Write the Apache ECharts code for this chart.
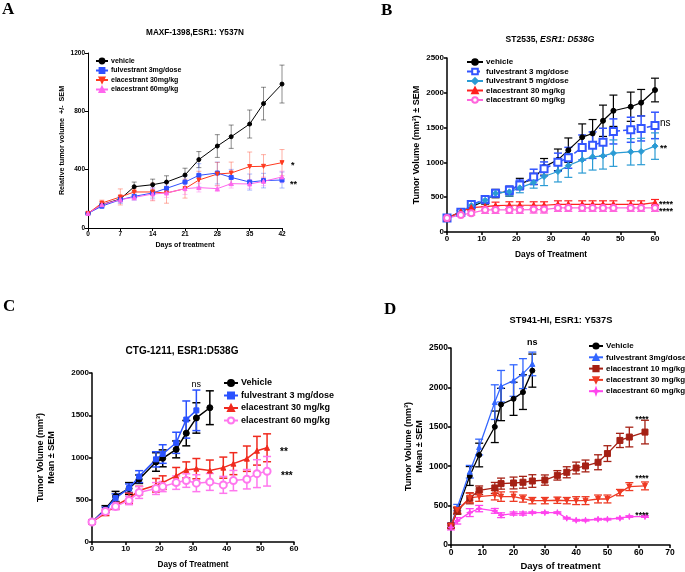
<!DOCTYPE html>
<html><head><meta charset="utf-8">
<script src="https://cdn.jsdelivr.net/npm/echarts@6/dist/echarts.min.js"></script>
<style>html,body{margin:0;padding:0;background:#fff}#c{width:685px;height:572px}</style>
</head><body><div id="c"></div>
<script>
// ---------- Panel A: MAXF-1398 ----------
const daysA = [0,3,7,10,14,17,21,24,28,31,35,38,42];
const A_vehicle = [100,160,199,283,297,315,363,469,562,626,713,853,987];
const A_vehicle_err = [5,12,15,32,38,43,47,55,78,80,96,112,130];
const A_fulv3 = [100,150,194,217,240,272,315,361,377,347,315,325,329];
const A_fulv3_err = [5,15,25,25,35,35,40,80,75,55,55,50,55];
const A_elac30 = [100,171,213,247,247,240,270,329,370,377,421,423,448];
const A_elac30_err = [5,20,55,25,60,70,65,60,80,75,100,80,90];
const A_elac60 = [100,160,195,210,233,240,270,277,270,304,302,320,350];
const A_elac60_err = [5,10,20,20,40,30,40,30,20,30,30,30,40];
const annA = [[42,448,'*'],[42,329,'**']];

// ---------- Panel B: ST2535 ----------
const daysB = [0,4,7,11,14,18,21,25,28,32,35,39,42,45,48,53,56,60];
const B_vehicle = [200,290,360,451,552,586,691,763,936,1037,1176,1363,1416,1598,1742,1800,1858,2040];
const B_vehicle_err = [20,20,30,50,60,70,80,80,120,155,175,190,200,225,225,210,190,170];
const B_fulv3 = [200,283,394,466,557,600,677,792,907,1003,1066,1214,1248,1291,1445,1469,1488,1531];
const B_fulv3_err = [20,30,40,50,50,60,70,110,100,130,150,180,190,200,180,180,180,190];
const B_fulv5 = [200,288,380,456,557,577,634,710,797,869,955,1037,1080,1094,1133,1152,1157,1234];
const B_fulv5_err = [20,20,30,40,40,60,70,80,130,150,170,190,190,190,190,190,190,190];
const B_elac30 = [200,290,350,365,379,384,384,384,384,398,398,398,398,398,398,398,398,422];
const B_elac30_err = [20,20,40,50,50,50,50,50,50,50,50,50,50,50,50,50,50,45];
const B_elac60 = [200,245,270,317,317,317,317,322,322,346,346,346,346,346,346,346,346,346];
const B_elac60_err = [15,20,30,50,50,50,50,50,50,50,50,50,50,50,50,50,50,50];
const annB = [[60,1531,'ns'],[60,1234,'**'],[60,422,'****'],[60,346,'****']];

// ---------- Panel C: CTG-1211 ----------
const daysC_veh = [0,4,7,11,14,19,21,25,28,31,35];
const C_vehicle = [237,390,539,633,743,947,990,1096,1288,1468,1589];
const C_vehicle_err = [20,40,60,70,50,110,100,100,150,180,200];
const daysC_fulv = [0,4,7,11,14,19,21,25,28,31];
const C_fulv3 = [237,382,520,637,774,978,1041,1174,1449,1558];
const C_fulv3_err = [20,30,50,50,70,90,110,125,220,240];
const daysC_elac = [0,4,7,11,14,19,21,25,28,31,35,39,42,46,49,52];
const C_elac30 = [237,343,429,519,609,672,703,782,853,868,845,880,927,986,1080,1115];
const C_elac30_err = [20,30,40,60,50,80,80,100,95,120,125,125,130,150,170,165];
const C_elac60 = [237,362,421,492,586,633,656,703,727,696,711,676,727,743,809,837];
const C_elac60_err = [20,30,40,50,70,70,60,80,80,100,100,100,120,115,165,175];
const annC = [[31,1558,'ns'],[52,1115,'**'],[52,837,'***']];

// ---------- Panel D: ST941-HI ----------
const daysD_short = [0,2,6,9,14,16,20,23,26];
const D_vehicle = [243,433,876,1142,1500,1783,1855,1940,2213];
const D_vehicle_err = [30,40,120,150,200,205,210,220,210];
const D_fulv3 = [250,475,930,1243,1813,2015,2087,2175,2298];
const D_fulv3_err = [30,40,80,100,220,200,200,190,150];
const daysD_long = [0,2,6,9,14,16,20,23,26,30,34,37,40,43,47,50,54,57,62];
const D_elac10 = [243,433,593,694,724,779,787,796,812,824,884,923,977,1003,1050,1160,1327,1370,1433];
const D_elac10_err = [30,40,70,55,70,70,75,75,80,65,60,70,75,75,95,100,90,125,150];
const D_elac30 = [243,445,597,614,632,614,614,589,563,563,568,563,563,563,584,584,665,741,750];
const D_elac30_err = [30,40,60,60,60,60,60,45,40,40,40,40,50,50,50,50,40,50,50];
const D_elac60 = [222,306,411,462,433,378,399,399,411,411,411,340,314,314,327,327,340,361,361];
const D_elac60_err = [30,40,50,40,30,30,20,20,10,10,10,10,10,10,10,10,10,10,10];
const annD = [[26,2298,'ns'],[62,1433,'****'],[62,750,'****'],[62,361,'****']];

// ---------- build ----------
const FF = '"Liberation Sans", Arial, Helvetica, sans-serif';
const chart = echarts.init(document.getElementById('c'), null, {renderer:'canvas'});
const series = [];

function addGroup(gi, name, days, vals, errs, o) {
  series.push({
    type:'custom', xAxisIndex:gi, yAxisIndex:gi, silent:true, z:2,
    data: days.map((d,i)=>[d, vals[i]-errs[i], vals[i]+errs[i]]),
    encode:{x:0, y:[1,2]},
    renderItem:(p, api)=>{
      const x = api.value(0);
      const lo = api.coord([x, api.value(1)]), hi = api.coord([x, api.value(2)]);
      const h = o.cap, st = {stroke:o.errColor||o.color, lineWidth:o.errWidth||o.width};
      return {type:'group', children:[
        {type:'line', shape:{x1:lo[0],y1:lo[1],x2:hi[0],y2:hi[1]}, style:st},
        {type:'line', shape:{x1:hi[0]-h,y1:hi[1],x2:hi[0]+h,y2:hi[1]}, style:st},
        {type:'line', shape:{x1:lo[0]-h,y1:lo[1],x2:lo[0]+h,y2:lo[1]}, style:st}
      ]};
    }
  });
  series.push({
    type:'line', name:name, xAxisIndex:gi, yAxisIndex:gi, z:3,
    data: days.map((d,i)=>[d, vals[i]]),
    symbol:o.symbol, symbolSize:o.size, symbolRotate:o.rotate||0,
    showAllSymbol:true, animation:false,
    lineStyle:{color:o.color, width:o.width, type:o.dash||'solid'},
    itemStyle:{color:o.color, borderColor:o.color, borderWidth:o.symBorder||1},
    emphasis:{disabled:true}
  });
}

function addAnn(gi, list, offs, font) {
  series.push({
    type:'custom', xAxisIndex:gi, yAxisIndex:gi, silent:true, z:5, clip:false,
    data: list.map(a=>[a[0],a[1]]),
    renderItem:(p, api)=>{
      const a = list[p.dataIndex], of = offs[p.dataIndex];
      const pt = api.coord([api.value(0), api.value(1)]);
      return {type:'text', x:pt[0]+of[0], y:pt[1]+of[1], style:{
        text:a[2], fill:'#000', fontSize:of[3]||font.size, fontWeight:of[4]||font.weight,
        fontFamily:FF, align:of[2]||'left', verticalAlign:'middle'}};
    }
  });
}

const star4 = 'path://M0,-10 L2.5,-2.5 L10,0 L2.5,2.5 L0,10 L-2.5,2.5 L-10,0 L-2.5,-2.5 Z';

// Panel A
addGroup(0,'vehicle|A',daysA,A_vehicle,A_vehicle_err,{color:'#000',errColor:'rgba(0,0,0,0.45)',width:1,errWidth:1,cap:2.5,symbol:'circle',size:4});
addGroup(0,'fulvestrant 3mg/dose|A',daysA,A_fulv3,A_fulv3_err,{color:'#3050ff',errColor:'rgba(48,80,255,0.4)',width:1,errWidth:1,cap:2.5,symbol:'rect',size:4});
addGroup(0,'elacestrant 30mg/kg|A',daysA,A_elac30,A_elac30_err,{color:'#ff3a1f',errColor:'rgba(255,58,31,0.4)',width:1,errWidth:1,cap:2.5,symbol:'triangle',rotate:180,size:4});
addGroup(0,'elacestrant 60mg/kg|A',daysA,A_elac60,A_elac60_err,{color:'#ff66ee',errColor:'rgba(255,102,238,0.4)',width:1,errWidth:1,cap:2.5,symbol:'triangle',size:4});
addAnn(0, annA, [[9,3],[8,4]], {size:9, weight:'bold'});

// Panel B
addGroup(1,'vehicle|B',daysB,B_vehicle,B_vehicle_err,{color:'#000',width:1.2,cap:4,symbol:'circle',size:5});
addGroup(1,'fulvestrant 3 mg/dose|B',daysB,B_fulv3,B_fulv3_err,{color:'#3355ff',width:1.5,cap:4,symbol:'emptyRect',size:7,dash:[5,3],symBorder:1.2});
addGroup(1,'fulvestrant 5 mg/dose|B',daysB,B_fulv5,B_fulv5_err,{color:'#2a9bd4',width:1.2,cap:4,symbol:'diamond',size:6});
addGroup(1,'elacestrant 30 mg/kg|B',daysB,B_elac30,B_elac30_err,{color:'#ff2020',width:1.2,cap:4,symbol:'triangle',size:6});
addGroup(1,'elacestrant 60 mg/kg|B',daysB,B_elac60,B_elac60_err,{color:'#ff66dd',width:1.2,cap:4,symbol:'emptyCircle',size:6,symBorder:1.2});
addAnn(1, annB, [[5,-2,'left',10,'normal'],[5,2],[4,2],[4,4]], {size:9, weight:'bold'});

// Panel C
addGroup(2,'Vehicle|C',daysC_veh,C_vehicle,C_vehicle_err,{color:'#000',width:1.5,cap:4,symbol:'circle',size:6});
addGroup(2,'fulvestrant 3 mg/dose|C',daysC_fulv,C_fulv3,C_fulv3_err,{color:'#2a52ff',width:1.5,cap:4,symbol:'rect',size:5});
addGroup(2,'elacestrant 30 mg/kg|C',daysC_elac,C_elac30,C_elac30_err,{color:'#f02a1e',width:1.5,cap:4,symbol:'triangle',size:5});
addGroup(2,'elacestrant 60 mg/kg|C',daysC_elac,C_elac60,C_elac60_err,{color:'#ff77ee',width:1.5,cap:4,symbol:'emptyCircle',size:7,symBorder:1.2});
addAnn(2, annC, [[0,-26,'center',9,'normal'],[13,4],[14,5]], {size:10, weight:'bold'});

// Panel D
addGroup(3,'Vehicle|D',daysD_short,D_vehicle,D_vehicle_err,{color:'#000',width:1.3,cap:4,symbol:'circle',size:5});
addGroup(3,'fulvestrant 3mg/dose|D',daysD_short,D_fulv3,D_fulv3_err,{color:'#3366ff',width:1.3,cap:4,symbol:'triangle',size:5});
addGroup(3,'elacestrant 10 mg/kg|D',daysD_long,D_elac10,D_elac10_err,{color:'#a52014',width:1.3,cap:4,symbol:'rect',size:6});
addGroup(3,'elacestrant 30 mg/kg|D',daysD_long,D_elac30,D_elac30_err,{color:'#ee3a24',width:1.3,cap:4,symbol:'triangle',rotate:180,size:5});
addGroup(3,'elacestrant 60 mg/kg|D',daysD_long,D_elac60,D_elac60_err,{color:'#ff44ee',width:1.3,cap:4,symbol:star4,size:6});
addAnn(3, annD, [[0,-21,'center',9,'bold'],[-3,-12,'center'],[-3,-7,'center'],[-3,-1,'center']], {size:8.5, weight:'bold'});

function xAx(gi, max, interval, fs, name, nfs, gap, lw) {
  return {type:'value', gridIndex:gi, min:0, max:max, interval:interval,
    name:name, nameLocation:'middle', nameGap:gap,
    nameTextStyle:{fontSize:nfs, fontWeight:'bold', color:'#000', fontFamily:FF},
    axisLine:{show:true, onZero:false, lineStyle:{color:'#000', width:lw}},
    axisTick:{show:true, length:3, lineStyle:{color:'#000', width:lw}},
    axisLabel:{fontSize:fs, fontWeight:'bold', color:'#000', margin:3, fontFamily:FF, formatter:(v)=>String(v)},
    splitLine:{show:false}};
}
function yAx(gi, max, interval, fs, name, nfs, gap, lw) {
  const a = xAx(gi, max, interval, fs, name, nfs, gap, lw);
  a.nameRotate = 90;
  a.nameTextStyle.lineHeight = nfs*1.25;
  return a;
}

const legendBase = (data, left, top, iw, ih, gap, fs) => ({
  data:data, left:left, top:top, orient:'vertical', padding:0,
  itemWidth:iw, itemHeight:ih, itemGap:gap, selectedMode:false,
  formatter:(n)=>n.split('|')[0],
  textStyle:{fontSize:fs, fontWeight:'bold', color:'#000', fontFamily:FF, padding:[0,0,0,-2]}
});

const letter = (t, left, top) => ({text:t, left:left, top:top, padding:0,
  textStyle:{fontFamily:'"Liberation Serif", "DejaVu Serif", serif', fontSize:17, fontWeight:'bold', color:'#000'}});
const ttl = (t, cx, top, fs) => ({text:t, left:cx, top:top, textAlign:'center', padding:0,
  textStyle:{fontFamily:FF, fontSize:fs, fontWeight:'bold', color:'#000'}});

const tB = {text:'{n|ST2535, }{i|ESR1: D538G}', left:550, top:35, textAlign:'center', padding:0,
  textStyle:{rich:{n:{fontFamily:FF, fontSize:8.5, fontWeight:'bold', color:'#000'},
                   i:{fontFamily:FF, fontSize:8.5, fontWeight:'bold', fontStyle:'italic', color:'#000'}}}};

chart.setOption({
  animation:false,
  backgroundColor:'#fff',
  title:[
    letter('A',2,1), letter('B',381,2), letter('C',3,298), letter('D',384,301),
    ttl('MAXF-1398,ESR1: Y537N',195,29,8.2), tB,
    ttl('CTG-1211, ESR1:D538G',182,346,10), ttl('ST941-HI, ESR1: Y537S',561,316,9.3)
  ],
  legend:[
    legendBase(['vehicle|A','fulvestrant 3mg/dose|A','elacestrant 30mg/kg|A','elacestrant 60mg/kg|A'],95,57.5,12,6,2.5,7),
    legendBase(['vehicle|B','fulvestrant 3 mg/dose|B','fulvestrant 5 mg/dose|B','elacestrant 30 mg/kg|B','elacestrant 60 mg/kg|B'],466,58,16,7,1.5,8),
    legendBase(['Vehicle|C','fulvestrant 3 mg/dose|C','elacestrant 30 mg/kg|C','elacestrant 60 mg/kg|C'],223,378.5,14,7.5,3.5,9),
    legendBase(['Vehicle|D','fulvestrant 3mg/dose|D','elacestrant 10 mg/kg|D','elacestrant 30 mg/kg|D','elacestrant 60 mg/kg|D'],588,342,14,6.5,3.3,8)
  ],
  grid:[
    {left:88, top:53, width:194, height:175},
    {left:447, top:58, width:208, height:174},
    {left:92, top:373, width:202, height:169},
    {left:451, top:348, width:219, height:198}
  ],
  xAxis:[
    xAx(0,42,7,6.5,'Days of treatment',7,14,1),
    xAx(1,60,10,8,'Days of Treatment',8.3,19,1.5),
    xAx(2,60,10,8,'Days of Treatment',8.2,19,1.5),
    xAx(3,70,10,8.5,'Days of treatment',9.5,16,1.5)
  ],
  yAxis:[
    yAx(0,1200,400,6.5,'Relative tumor volume  +/-  SEM',7.2,18,1),
    yAx(1,2500,500,8,'Tumor Volume (mm³) ± SEM',9,25,1.5),
    yAx(2,2000,500,8,'Tumor Volume (mm³)\nMean ± SEM',9,35,1.5),
    yAx(3,2500,500,8.5,'Tumor Volume (mm³)\nMean ± SEM',9,16,1.5)
  ],
  series:series
});
</script></body></html>
